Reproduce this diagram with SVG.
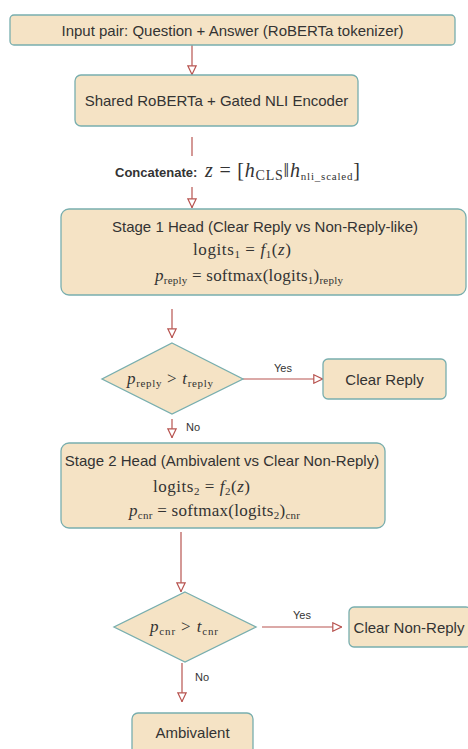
<svg xmlns="http://www.w3.org/2000/svg" width="468" height="749" viewBox="0 0 468 749">
  <style>
    .box { fill: #f5e3c5; stroke: #78aeae; stroke-width: 1.3; }
    .lbl { font-family: "Liberation Sans", Arial, sans-serif; font-size: 15px; fill: #333333; }
    .small { font-family: "Liberation Sans", Arial, sans-serif; font-size: 11px; fill: #333333; }
    .bold { font-family: "Liberation Sans", Arial, sans-serif; font-size: 13px; font-weight: bold; fill: #333333; }
    .math { font-family: "Liberation Serif", "Times New Roman", serif; font-size: 17px; fill: #333333; }
    .big { font-size: 20px; }
    .it { font-style: italic; }
    .sub { font-size: 11px; }
    .bsub { font-size: 14px; }
    .edge { stroke: #b85450; stroke-width: 1.2; fill: none; }
  </style>
  <defs>
    <marker id="open" viewBox="0 0 10 10" refX="10" refY="5" markerWidth="10" markerHeight="10" markerUnits="userSpaceOnUse" orient="auto">
      <path d="M0.8,0.8 L9.5,5 L0.8,9.2 Z" fill="#ffffff" stroke="#b85450" stroke-width="1.2"/>
    </marker>
  </defs>

  <rect width="468" height="749" fill="#ffffff"/>

  <!-- connectors -->
  <g id="connectors">
    <line class="edge" x1="192" y1="45" x2="192" y2="75" marker-end="url(#open)"/>
    <line class="edge" x1="192" y1="137" x2="192" y2="156"/>
    <line class="edge" x1="192" y1="187" x2="192" y2="208" marker-end="url(#open)"/>
    <line class="edge" x1="172" y1="309" x2="172" y2="338" marker-end="url(#open)"/>
    <line class="edge" x1="243" y1="379" x2="323" y2="379" marker-end="url(#open)"/>
    <text class="small" x="283" y="372" text-anchor="middle">Yes</text>
    <line class="edge" x1="172" y1="419" x2="172" y2="438" marker-end="url(#open)"/>
    <text class="small" x="186" y="431">No</text>
    <line class="edge" x1="181" y1="532" x2="181" y2="592" marker-end="url(#open)"/>
    <line class="edge" x1="262" y1="627" x2="342" y2="627" marker-end="url(#open)"/>
    <text class="small" x="302" y="619" text-anchor="middle">Yes</text>
    <line class="edge" x1="182" y1="663" x2="182" y2="702" marker-end="url(#open)"/>
    <text class="small" x="195" y="681">No</text>
    <!-- concatenation step -->
    <text class="bold" x="115" y="177">Concatenate:</text>
    <text class="math big" x="205" y="177" textLength="155" lengthAdjust="spacing"><tspan class="it">z</tspan> = [<tspan class="it">h</tspan><tspan class="bsub" dy="3">CLS</tspan><tspan dy="-3">‖</tspan><tspan class="it">h</tspan><tspan class="sub" dy="3">nli_scaled</tspan><tspan dy="-3">]</tspan></text>
  </g>

  <g id="input">
    <rect class="box" x="10" y="15" width="445" height="30" rx="4"/>
    <text class="lbl" x="232.5" y="35.5" text-anchor="middle">Input pair: Question + Answer (RoBERTa tokenizer)</text>
  </g>

  <g id="encoder">
    <rect class="box" x="75" y="75" width="283" height="51" rx="6"/>
    <text class="lbl" x="216.5" y="105.5" text-anchor="middle">Shared RoBERTa + Gated NLI Encoder</text>
  </g>

  <g id="stage1">
    <rect class="box" x="61" y="209" width="405" height="86" rx="8"/>
    <text class="lbl" x="265" y="231.5" text-anchor="middle">Stage 1 Head (Clear Reply vs Non-Reply-like)</text>
    <text class="math" x="193" y="254.5" textLength="98" lengthAdjust="spacing">logits<tspan class="sub" dy="3">1</tspan><tspan dy="-3"> = </tspan><tspan class="it">f</tspan><tspan class="sub" dy="3">1</tspan><tspan dy="-3">(</tspan><tspan class="it">z</tspan>)</text>
    <text class="math" x="155" y="281" textLength="188" lengthAdjust="spacing"><tspan class="it">p</tspan><tspan class="sub" dy="3">reply</tspan><tspan dy="-3"> = softmax(logits</tspan><tspan class="sub" dy="3">1</tspan><tspan dy="-3">)</tspan><tspan class="sub" dy="3">reply</tspan></text>
  </g>

  <g id="decision1">
    <polygon class="box" points="172,343 243,379 172,414 102,379"/>
    <text class="math" x="127" y="384" textLength="86" lengthAdjust="spacing"><tspan class="it">p</tspan><tspan class="sub" dy="3">reply</tspan><tspan dy="-3"> &gt; </tspan><tspan class="it">t</tspan><tspan class="sub" dy="3">reply</tspan></text>
  </g>

  <g id="clear-reply">
    <rect class="box" x="323" y="359" width="123" height="40" rx="5"/>
    <text class="lbl" x="384.5" y="384.5" text-anchor="middle">Clear Reply</text>
  </g>

  <g id="stage2">
    <rect class="box" x="61" y="443" width="324" height="85" rx="8"/>
    <text class="lbl" x="222" y="465.5" text-anchor="middle">Stage 2 Head (Ambivalent vs Clear Non-Reply)</text>
    <text class="math" x="153" y="492" textLength="97" lengthAdjust="spacing">logits<tspan class="sub" dy="3">2</tspan><tspan dy="-3"> = </tspan><tspan class="it">f</tspan><tspan class="sub" dy="3">2</tspan><tspan dy="-3">(</tspan><tspan class="it">z</tspan>)</text>
    <text class="math" x="129" y="516" textLength="171" lengthAdjust="spacing"><tspan class="it">p</tspan><tspan class="sub" dy="3">cnr</tspan><tspan dy="-3"> = softmax(logits</tspan><tspan class="sub" dy="3">2</tspan><tspan dy="-3">)</tspan><tspan class="sub" dy="3">cnr</tspan></text>
  </g>

  <g id="decision2">
    <polygon class="box" points="185,592 256,627 185,662 114,627"/>
    <text class="math" x="150" y="632" textLength="68" lengthAdjust="spacing"><tspan class="it">p</tspan><tspan class="sub" dy="3">cnr</tspan><tspan dy="-3"> &gt; </tspan><tspan class="it">t</tspan><tspan class="sub" dy="3">cnr</tspan></text>
  </g>

  <g id="clear-non-reply">
    <rect class="box" x="349" y="607" width="122" height="40" rx="5"/>
    <text class="lbl" x="409" y="632.5" text-anchor="middle">Clear Non-Reply</text>
  </g>

  <g id="ambivalent">
    <rect class="box" x="132" y="713" width="121" height="50" rx="6"/>
    <text class="lbl" x="192.5" y="737.5" text-anchor="middle">Ambivalent</text>
  </g>
</svg>
